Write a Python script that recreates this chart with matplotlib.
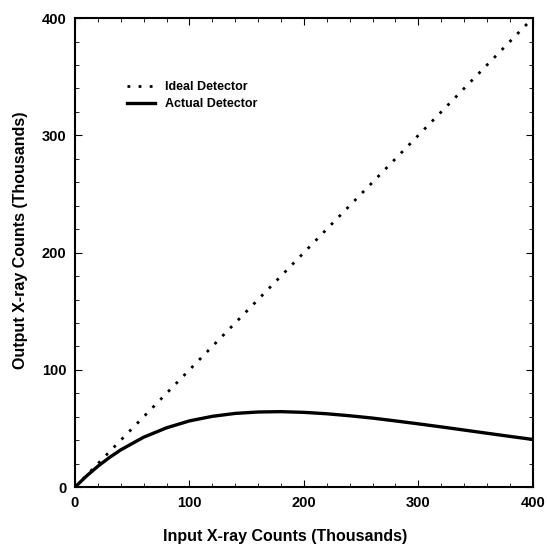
import matplotlib.pyplot as plt
from matplotlib.ticker import MultipleLocator

plt.rcParams['font.family'] = ['Liberation Sans', 'DejaVu Sans']
plt.rcParams['font.weight'] = 'bold'

ideal_x = [0, 400]
ideal_y = [0, 400]

actual_x = [0, 10, 20, 30, 40, 60, 80, 100, 120, 140, 160, 180, 200, 220, 240,
            260, 280, 300, 320, 340, 360, 380, 400]
actual_y = [0, 9.4, 17.8, 25.2, 31.8, 42.6, 50.6, 56.5, 60.4, 62.9, 64.1, 64.4,
            63.8, 62.6, 60.9, 58.9, 56.5, 54.0, 51.4, 48.7, 46.0, 43.3, 40.7]

fig = plt.figure(figsize=(5.47, 5.48), dpi=100)
ax = fig.add_axes([0.137, 0.111, 0.837, 0.856])

ax.plot(ideal_x, ideal_y, color='black', linewidth=2, linestyle=(0, (1, 3)),
        label='Ideal Detector')
ax.plot(actual_x, actual_y, color='black', linewidth=2.4, label='Actual Detector')

ax.set_xlim(0, 400)
ax.set_ylim(0, 400)
ax.xaxis.set_major_locator(MultipleLocator(100))
ax.yaxis.set_major_locator(MultipleLocator(100))
ax.xaxis.set_minor_locator(MultipleLocator(20))
ax.yaxis.set_minor_locator(MultipleLocator(20))
ax.tick_params(which='both', direction='in', top=True, right=True, labelsize=10.5, pad=6)
ax.tick_params(which='major', length=5)
ax.tick_params(which='minor', length=3)
for s in ax.spines.values():
    s.set_linewidth(1.5)

ax.set_xlabel('Input X-ray Counts (Thousands)', fontsize=11.5, fontweight='bold')
ax.set_ylabel('Output X-ray Counts (Thousands)', fontsize=11.5, fontweight='bold')
ax.xaxis.set_label_coords(0.458, -0.09)
ax.yaxis.set_label_coords(-0.102, 0.527)

ax.legend(loc='upper left', bbox_to_anchor=(0.09, 0.89), frameon=False,
          fontsize=9, handlelength=2.2, handletextpad=0.8, labelspacing=0.4)

fig.savefig('out.png', dpi=100)
